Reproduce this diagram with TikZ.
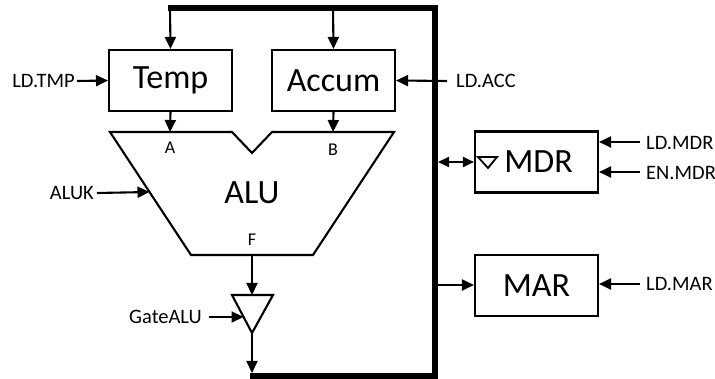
\documentclass[tikz,border=0pt]{standalone}
\usepackage{fontspec}
\setmainfont{Carlito}
\usetikzlibrary{arrows.meta}
\tikzset{
  wire/.style={line width=2.1pt},
  arr/.style={wire,-{Triangle[length=12pt,width=11pt]}},
  darr/.style={wire,{Triangle[length=11pt,width=10pt]}-{Triangle[length=11pt,width=10pt]}},
  bus/.style={line width=6pt},
  reg/.style={draw,line width=2.1pt,minimum width=123pt,minimum height=61pt,inner sep=0pt,font=\fontsize{34}{38}\selectfont},
  sig/.style={inner sep=0pt,font=\fontsize{20.5}{24}\selectfont},
  port/.style={inner sep=0pt,font=\fontsize{18}{21}\selectfont}
}
\begin{document}
\begin{tikzpicture}[x=1pt,y=-1pt]
\useasboundingbox (0,0) rectangle (715,379);
% registers
\node[reg] (temp) at (170.5,80.5) {Temp};
\node[reg] (accum) at (333.5,80.5) {Accum};
\node[reg] (mdr) at (536.5,162) {\hspace{4pt}MDR};
\node[reg] (mar) at (536.5,285.5) {MAR};
% bus
\coordinate (busTL) at (170,8);
\coordinate (busTR) at (435,8);
\coordinate (busBR) at (435,376);
\coordinate (busBL) at (250,376);
\coordinate (busAcc) at (333,8);
\draw[bus,line join=miter] (168,8) -- (busTR) -- (busBR) -- (250,376);
% ALU shape
\draw[wire,line join=miter] (110,132) -- (232,132) -- (252,153) -- (272,132) -- (394,132)
  -- (313,255) -- (191,255) -- cycle;
\coordinate (aluA) at (170,132);
\coordinate (aluB) at (333,132);
\coordinate (aluF) at (252,255);
\coordinate (aluK) at (149.5,192);
\node[font=\fontsize{34}{38}\selectfont,inner sep=0pt] (alu) at (252,193) {ALU};
\node[port] (la) at (170,148) {A};
\node[port] (lb) at (333,150) {B};
\node[port] (lf) at (252,240) {F};
% tri-state gate
\coordinate (trTop) at (252,295);
\coordinate (trBot) at (252,333);
\coordinate (trL) at (243.5,317);
\draw[wire,line join=miter] (232,295) -- (273,295) -- (trBot) -- cycle;
% MDR inner triangle
\draw[line width=1.8pt,line join=miter] (478,157) -- (497,157) -- (488,168) -- cycle;
% connectors
\draw[arr] (busTL) -- (temp.north);
\draw[arr] (busAcc) -- (accum.north);
\draw[arr] (temp.south) -- (aluA);
\draw[arr] (accum.south) -- (aluB);
\draw[arr] (aluF) -- (trTop);
\draw[arr] (trBot) -- (252,373);
\node[sig,anchor=east] (ldtmp) at (75,81) {LD.TMP};
\draw[arr] ([xshift=2pt]ldtmp.east) -- (temp.west);
\coordinate (accIn) at (447,81);
\node[sig,anchor=west] (ldacc) at (456,81) {LD.ACC};
\draw[arr] (accIn) -- (accum.east);
\node[sig,anchor=east] (aluk) at (94,193) {ALUK};
\draw[arr] ([xshift=3pt]aluk.east) -- (aluK);
\node[sig,anchor=east] (gate) at (202,317) {GateALU};
\draw[arr] (209,317) -- (trL);
\draw[darr] (438,162) -- (mdr.west);
\draw[arr] (438,285) -- (mar.west |- 0,285);
\node[sig,anchor=west] (ldmdr) at (646,143) {LD.MDR};
\node[sig,anchor=west] (enmdr) at (646,173) {EN.MDR};
\node[sig,anchor=west] (ldmar) at (646,284) {LD.MAR};
\draw[arr] (640,142) -- (mdr.east |- 0,142);
\draw[arr] (640,172) -- (mdr.east |- 0,172);
\draw[arr] (640,284) -- (mar.east |- 0,284);
\end{tikzpicture}
\end{document}
